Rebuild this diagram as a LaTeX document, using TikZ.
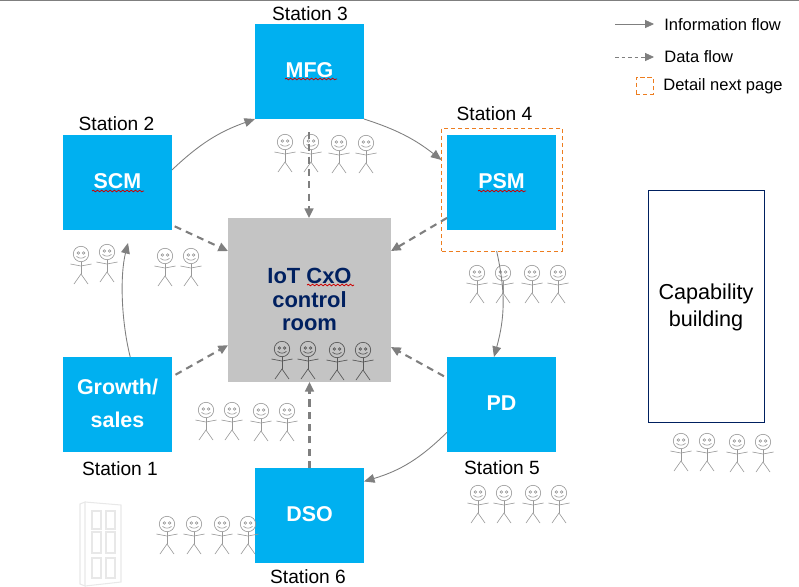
\documentclass[tikz,border=0pt]{standalone}
\usepackage{fontspec}
\setmainfont{Liberation Sans}
\usetikzlibrary{arrows.meta}
\usetikzlibrary{decorations.pathmorphing}

\definecolor{stationblue}{HTML}{00B0F0}
\definecolor{roomgray}{HTML}{C4C4C4}
\definecolor{roomnavy}{HTML}{002060}
\definecolor{flowgray}{HTML}{7F7F7F}
\definecolor{detailorange}{HTML}{ED7D1F}
\definecolor{doorgray}{HTML}{E8E8E8}

\tikzset{
    station/.style={fill=stationblue, text=white, minimum width=2.18cm, minimum height=1.9cm,
        inner sep=0pt, outer sep=0pt, align=center, text depth=1.2pt, font=\fontsize{12.2}{18.7}\selectfont\bfseries},
    stationname/.style={text=black, inner sep=0pt, font=\fontsize{10.9}{13}\selectfont},
    legendtext/.style={text=black, inner sep=0pt, anchor=west, font=\fontsize{9.4}{12}\selectfont},
    infoflow/.style={draw=flowgray, line width=0.5pt, -{Triangle[length=6pt,width=5pt]}},
    dataflow/.style={draw=flowgray, line width=1.2pt, dash pattern=on 4pt off 3pt, -{Triangle[length=5.5pt,width=5pt]}},
    legendflow/.style={draw=flowgray, line width=0.4pt, -{Triangle[length=5pt,width=4.5pt]}},
    squiggle/.style={draw=red!80!black, line width=0.45pt, decorate,
        decoration={snake, amplitude=0.45pt, segment length=2.4pt}},
    stickman/.pic={
        \draw (0,0) circle (7.7);
        \draw (-2.6,-1) circle (1.3) (2.6,-1) circle (1.3);
        \draw (-4.5,2.3) .. controls (-2,4.8) and (2,4.8) .. (4.5,2.3);
        \draw (0,7.7) -- (0,20);
        \draw (-10.5,10) -- (0,12) -- (10.5,10);
        \draw (-7,30) -- (0,20) -- (7,30);
    }
}

\begin{document}
\begin{tikzpicture}[x=0.02cm, y=-0.02cm]
    \useasboundingbox (0,0) rectangle (799,586);
    \draw[flowgray, line width=0.6pt] (0,0.5) -- (799,0.5);

    % Door
    \begin{scope}[doorgray, line width=0.6pt]
        \draw (80,504) -- (85,502) -- (85,586) -- (80,584) -- cycle;
        \draw (85,502) -- (121,505) -- (121,582) -- (85,586);
        \foreach \dx/\dw in {92/9,106/9} {
            \foreach \dy/\dh in {511/18,532/21,558/20} {
                \draw[line width=1.2pt] (\dx,\dy) rectangle (\dx+\dw,\dy+\dh);
            }
        }
    \end{scope}

    % Control room
    \node[fill=roomgray, minimum width=3.26cm, minimum height=3.28cm, inner sep=0pt, outer sep=0pt] (iot) at (309.5,300) {};
    \node[text=roomnavy, align=center, inner sep=0pt, font=\fontsize{12.5}{13.2}\selectfont\bfseries] (iottext) at (309.5,299.5) {IoT CxO\\control\\room};

    % Stations
    \node[station] (scm) at (117.5,182.5) {SCM};
    \node[station] (mfg) at (309.5,71.5) {MFG};
    \node[station] (psm) at (501.5,182.5) {PSM};
    \node[station] (growth) at (117.5,404.5) {Growth/\\sales};
    \node[station] (pd) at (501.5,404.5) {PD};
    \node[station] (dso) at (309.5,515.5) {DSO};

    % Station names
    \node[stationname] (name1) at (120,468.5) {Station 1};
    \node[stationname] (name2) at (116.5,123.5) {Station 2};
    \node[stationname] (name3) at (310,13.5) {Station 3};
    \node[stationname] (name4) at (494.5,114) {Station 4};
    \node[stationname] (name5) at (502,468) {Station 5};
    \node[stationname] (name6) at (308,577) {Station 6};

    % Detail frame and capability box
    \node[draw=detailorange, dash pattern=on 2.5pt off 1.5pt, line width=0.5pt, minimum width=2.42cm, minimum height=2.46cm, inner sep=0pt, outer sep=0pt] (detail) at (502,189.5) {};
    \node[draw=roomnavy, line width=0.5pt, minimum width=2.32cm, minimum height=4.64cm, inner sep=0pt, outer sep=0pt] (capability) at (706,306) {};
    \node[align=center, inner sep=0pt, font=\fontsize{12.3}{15.3}\selectfont] (capabilitytext) at (706,307.5) {Capability\\building};

    % Spell check marks
    \draw[squiggle] (285,79) -- (337,79);
    \draw[squiggle] (92,191) -- (144,191);
    \draw[squiggle] (478,191) -- (526,191);
    \draw[squiggle] (307,285) -- (354,285);

    % People
    \begin{scope}[flowgray!80, line width=0.35pt]
        \foreach \px/\py in {81/254,107/252,165/256,191/256,
                285/142,311/142,339/143,366/143,
                477/273,503/273,532/273,558/273,
                206/410,232/410,261/411,287/411,
                478/493,504/493,533/493,559/493,
                167/524,194/524,222/524,248/524,
                681/441,707/441,737/442,763/442} {
            \pic at (\px,\py) {stickman};
        }
    \end{scope}
    \begin{scope}[black!65, line width=0.4pt]
        \foreach \px/\py in {282/349,308/349,337/350,363/350} {
            \pic at (\px,\py) {stickman};
        }
    \end{scope}

    % Information flow
    \coordinate (scmtip) at (128,243);
    \draw[infoflow] (growth.75) .. controls (121,320) and (120,275) .. (scmtip);
    \draw[infoflow] (scm.13) to[bend left=12] (mfg.south west);
    \draw[infoflow] (mfg.south east) to[bend left=10] (detail.154);
    \draw[infoflow] (detail.-95) to[bend left=14] (pd.99);
    \draw[infoflow] (pd.207) to[bend left=14] (dso.32);

    % Data flow
    \coordinate (mfgstart) at (309,132);
    \draw[dataflow] (mfgstart) -- (iot.north -| mfgstart);
    \draw[dataflow, shorten <=1.7pt] (scm.-38) -- (iot.149.5);
    \draw[dataflow] (psm.213) -- (iot.31);
    \draw[dataflow, shorten <=2.3pt] (growth.27.6) -- (iot.209.4);
    \draw[dataflow, shorten <=2pt] (pd.154) -- (iot.-30.2);
    \draw[dataflow] (dso) -- (iot);

    % Legend
    \node[legendtext] (legendinfo) at (664,24.5) {Information flow};
    \node[legendtext] (legenddata) at (664,56.5) {Data flow};
    \node[legendtext] (legenddetail) at (663,86) {Detail next page};
    \coordinate (infostart) at (615,24);
    \coordinate (infoend) at (654,24);
    \coordinate (datastart) at (615,57);
    \coordinate (dataend) at (654,57);
    \draw[legendflow] (infostart) -- (infoend);
    \draw[legendflow, dash pattern=on 2.2pt off 1.5pt] (datastart) -- (dataend);
    \node[draw=detailorange, dash pattern=on 2.5pt off 1.5pt, line width=0.5pt, minimum size=0.34cm, inner sep=0pt] (legendbox) at (644.5,86) {};
\end{tikzpicture}
\end{document}
